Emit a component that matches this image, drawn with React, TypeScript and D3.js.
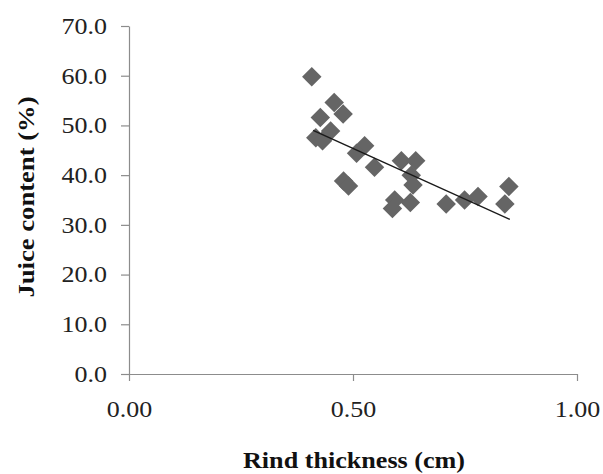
// App.tsx
import React, { useEffect, useRef } from "react";
import * as d3 from "d3";

const rindThickness = [
  0.408, 0.458, 0.478, 0.427, 0.45, 0.417, 0.432, 0.526, 0.508, 0.548, 0.479,
  0.49, 0.608, 0.64, 0.63, 0.634, 0.593, 0.588, 0.628, 0.708, 0.749, 0.779,
  0.848, 0.839,
];
const juiceContent = [
  59.8, 54.6, 52.3, 51.6, 48.9, 47.5, 46.9, 45.9, 44.4, 41.6, 38.8, 37.8, 42.9,
  42.9, 40.0, 38.0, 35.0, 33.3, 34.5, 34.2, 35.0, 35.7, 37.7, 34.2,
];
const trendX = [0.411, 0.85];
const trendY = [49.0, 31.1];
const xTicks = [0, 0.5, 1];
const yTicks = [0, 10, 20, 30, 40, 50, 60, 70];

// the original picture is a bit wider than the font, stretch text to match
const stretch = (sel: d3.Selection<any, any, any, any>, k: number) =>
  sel.each(function (this: SVGTextElement) {
    const w = this.getComputedTextLength();
    d3.select(this)
      .attr("textLength", w * k)
      .attr("lengthAdjust", "spacingAndGlyphs");
  });

const App = () => {
  const ref = useRef<SVGSVGElement>(null);

  useEffect(() => {
    const svg = d3.select(ref.current);
    svg.selectAll("*").remove();

    const x0 = 129,
      x1 = 577,
      yTop = 26,
      yBot = 374;

    const x = d3.scaleLinear().domain([0, 1]).range([x0, x1]);
    const y = d3.scaleLinear().domain([0, 70]).range([yBot, yTop]);

    const font = "Liberation Serif";
    const axisColor = "#8c8c8c";

    const xAxis = svg
      .append("g")
      .attr("transform", `translate(0,${yBot})`)
      .call(
        d3
          .axisBottom(x)
          .tickValues(xTicks)
          .tickFormat(d3.format(".2f"))
          .tickSize(7)
          .tickSizeOuter(0)
          .tickPadding(20)
      );

    const yAxis = svg
      .append("g")
      .attr("transform", `translate(${x0},0)`)
      .call(
        d3
          .axisLeft(y)
          .tickValues(yTicks)
          .tickFormat(d3.format(".1f"))
          .tickSize(8)
          .tickSizeOuter(0)
          .tickPadding(14)
      );

    [xAxis, yAxis].forEach((g) => {
      g.attr("font-family", font).attr("font-size", 23);
      g.select(".domain").attr("stroke", axisColor).attr("stroke-width", 1.2);
      g.selectAll(".tick line").attr("stroke", axisColor).attr("stroke-width", 1.2);
      g.selectAll(".tick text").attr("fill", "#222");
      stretch(g.selectAll(".tick text"), 1.13);
    });

    const pts = d3.zip(rindThickness, juiceContent);
    const diamond = d3.symbol().type(d3.symbolSquare).size(190);
    svg
      .append("g")
      .selectAll("path")
      .data(pts)
      .join("path")
      .attr("d", diamond)
      .attr("transform", (d) => `translate(${x(d[0])},${y(d[1])}) rotate(45)`)
      .attr("fill", "#656565");

    const line = d3
      .line<[number, number]>()
      .x((d) => x(d[0]))
      .y((d) => y(d[1]));
    svg
      .append("path")
      .datum(d3.zip(trendX, trendY) as [number, number][])
      .attr("d", line)
      .attr("fill", "none")
      .attr("stroke", "#1a1a1a")
      .attr("stroke-width", 1.5);

    svg
      .append("text")
      .attr("x", 354)
      .attr("y", 468)
      .attr("text-anchor", "middle")
      .attr("font-family", font)
      .attr("font-size", 23)
      .attr("font-weight", "bold")
      .attr("textLength", 222)
      .attr("lengthAdjust", "spacingAndGlyphs")
      .attr("fill", "#111")
      .text("Rind thickness (cm)");

    svg
      .append("text")
      .attr("transform", "translate(34,197) rotate(-90)")
      .attr("text-anchor", "middle")
      .attr("font-family", font)
      .attr("font-size", 23)
      .attr("font-weight", "bold")
      .attr("textLength", 201)
      .attr("lengthAdjust", "spacingAndGlyphs")
      .attr("fill", "#111")
      .text("Juice content (%)");
  }, []);

  return (
    <svg
      ref={ref}
      width={603}
      height={474}
      style={{ position: "absolute", left: 0, top: 0, background: "#fff" }}
    />
  );
};

export default App;
